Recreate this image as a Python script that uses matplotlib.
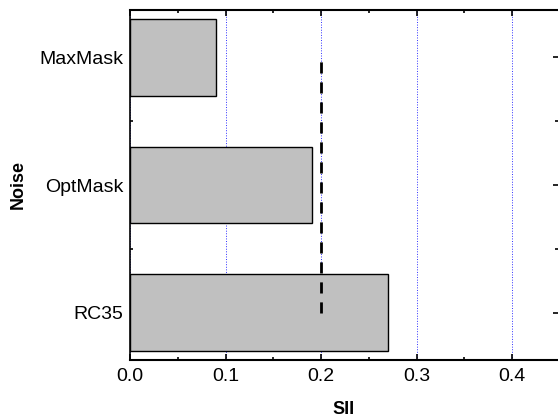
import matplotlib.pyplot as plt
from matplotlib.ticker import MultipleLocator, FixedLocator

plt.rcParams['font.family'] = ['Liberation Sans', 'DejaVu Sans']

# SII per noise condition, top to bottom
noises = ["MaxMask", "OptMask", "RC35"]
sii = [0.09, 0.19, 0.27]

# reference SII level, drawn across the noise rows
ref_sii = 0.2
ref_span = [0, 2]

fig = plt.figure(figsize=(5.58, 4.18), dpi=100)
ax = fig.add_axes([130 / 558, 1 - 360 / 418, 428 / 558, 350 / 418])

ypos = list(range(len(noises)))
ax.barh(ypos, sii, height=0.6, color="#c0c0c0", edgecolor="black",
        linewidth=1.0, zorder=2)

# dashed reference line, drawn from the bottom row up
ln, = ax.plot([ref_sii, ref_sii], [ref_span[1], ref_span[0]],
              color="black", linewidth=2, zorder=3)
ln.set_dashes((4, 3.2))

ax.set_xlim(0, 0.448)
ax.set_ylim(len(noises) - 1 + 0.37, -0.37)

ax.xaxis.set_major_locator(MultipleLocator(0.1))
ax.xaxis.set_minor_locator(MultipleLocator(0.05))
ax.xaxis.set_major_formatter(plt.FuncFormatter(lambda v, p: f"{v:.1f}"))

ax.set_yticks(ypos)
ax.set_yticklabels(noises)
ax.yaxis.set_minor_locator(FixedLocator([0.5, 1.5]))

ax.set_axisbelow(True)
ax.xaxis.grid(True, which="major", color="#3030ff", linestyle=":",
              linewidth=0.7)

ax.spines["right"].set_visible(False)
ax.spines["top"].set_linewidth(1.5)
ax.spines["bottom"].set_linewidth(1.5)
ax.spines["left"].set_linewidth(1.2)

ax.tick_params(axis="x", which="both", direction="in", top=True,
               labelsize=14, pad=6, width=1.2)
ax.tick_params(axis="x", which="major", length=4)
ax.tick_params(axis="x", which="minor", length=2.5)
ax.tick_params(axis="y", which="both", direction="in", right=True,
               labelsize=14, pad=5, width=1.2)
ax.tick_params(axis="y", which="major", length=3.5)
ax.tick_params(axis="y", which="minor", length=2)

ax.set_xlabel("SII", fontsize=13, fontweight="bold", labelpad=11)
fig.text(18 / 558, 1 - 185 / 418, "Noise", fontsize=13, fontweight="bold",
         rotation=90, ha="center", va="center")

fig.savefig("out.png", dpi=100)
